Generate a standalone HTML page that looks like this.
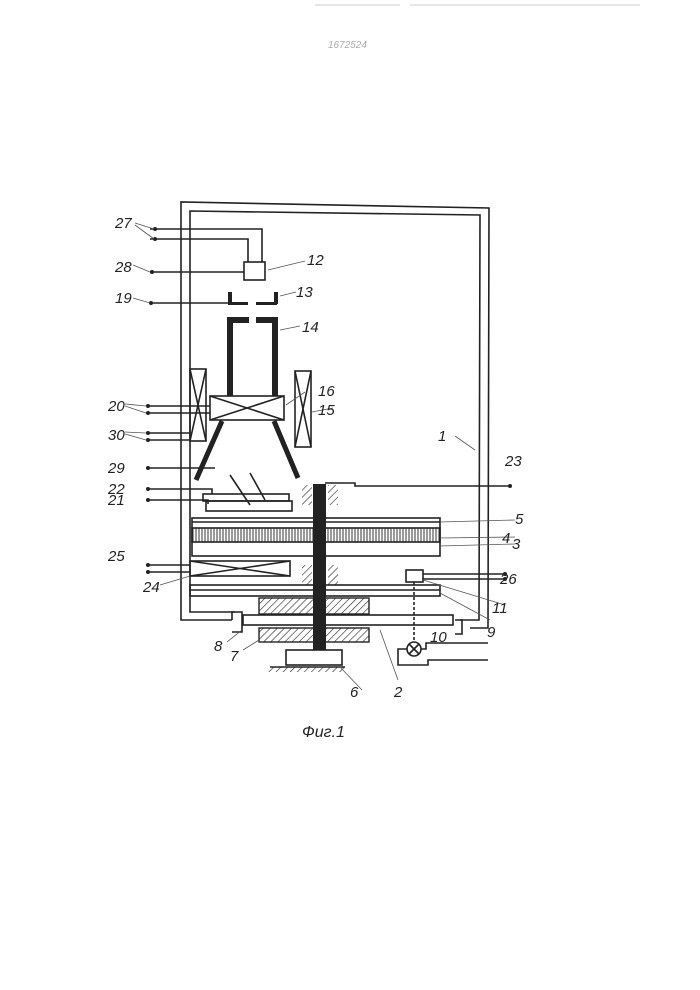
<!DOCTYPE html>
<html><head><meta charset="utf-8"><style>
html,body{margin:0;padding:0;background:#fff}
svg{display:block}
text{font-family:"Liberation Sans",sans-serif;font-style:italic;fill:#222}
</style></head><body>
<svg width="700" height="990" viewBox="0 0 700 990" xmlns="http://www.w3.org/2000/svg">
<defs>
<pattern id="h" width="5" height="5" patternUnits="userSpaceOnUse" patternTransform="rotate(45)"><line x1="0" y1="0" x2="0" y2="5" stroke="#222" stroke-width="1.2"/></pattern>
<pattern id="v" width="3" height="10" patternUnits="userSpaceOnUse"><line x1="1" y1="0" x2="1" y2="10" stroke="#333" stroke-width="1"/></pattern>
</defs>
<g stroke="#ccc" stroke-width="1"><line x1="315" y1="5" x2="400" y2="5"/><line x1="410" y1="5" x2="640" y2="5"/></g>
<text x="328" y="48" font-size="10" fill="#999" style="fill:#aaa">1672524</text>
<g fill="none" stroke="#222" stroke-width="1.6">
<!-- housing -->
<polyline points="232,620 181,620 181,202 489,208 488,628 470,628"/>
<polyline points="235,612 190,612 190,211 480,215 479,620 460,620"/>
<polyline points="232,620 232,612 242,612 242,632 232,632"/>
<polyline points="455,620 462,620 462,634 455,634"/>
<!-- 12 etc -->
<polyline points="150,229 262,229 262,262"/>
<polyline points="150,239 248,239 248,262"/>
<rect x="244" y="262" width="21" height="18"/>
<line x1="150" y1="272" x2="244" y2="272"/>
<line x1="150" y1="303" x2="228" y2="303"/>
<!-- 20/30 wires -->
<line x1="148" y1="406" x2="210" y2="406"/><line x1="148" y1="413" x2="210" y2="413"/>
<line x1="148" y1="433" x2="190" y2="433"/><line x1="148" y1="440" x2="190" y2="440"/>
<line x1="148" y1="468" x2="215" y2="468"/>
<polyline points="148,489 212,489 212,494"/>
<polyline points="148,500 208,500 208,504"/>
<line x1="148" y1="565" x2="190" y2="565"/><line x1="148" y1="572" x2="190" y2="572"/>
<!-- coils -->
<rect x="190" y="369" width="16" height="72"/><polyline points="190,369 206,441"/><polyline points="206,369 190,441"/>
<rect x="295" y="371" width="16" height="76"/><polyline points="295,371 311,447"/><polyline points="311,371 295,447"/>
<rect x="210" y="396" width="74" height="24"/><polyline points="210,396 284,420"/><polyline points="210,420 284,396"/>
<!-- substrates -->
<rect x="203" y="494" width="86" height="7"/><rect x="206" y="501" width="86" height="10"/>
<line x1="230" y1="475" x2="250" y2="505"/><line x1="250" y1="473" x2="265" y2="500"/>
<!-- targets -->
<rect x="192" y="518" width="248" height="38"/>
<rect x="192" y="528" width="248" height="14" fill="url(#v)"/>
<line x1="192" y1="522" x2="440" y2="522"/>
<rect x="190" y="561" width="100" height="15"/><polyline points="190,561 290,576"/><polyline points="190,576 290,561"/>
<rect x="190" y="585" width="250" height="11"/><line x1="190" y1="590" x2="440" y2="590"/>
<rect x="406" y="570" width="17" height="12"/>
<line x1="423" y1="574" x2="505" y2="574"/><line x1="423" y1="579" x2="505" y2="579"/>
<line x1="414" y1="582" x2="414" y2="642" stroke-dasharray="3,2"/>
<rect x="243" y="615" width="210" height="10"/>
<circle cx="414" cy="649" r="7"/><line x1="409" y1="644" x2="419" y2="654"/><line x1="419" y1="644" x2="409" y2="654"/>
<polyline points="421,649 426,649 426,643 488,643"/>
<polyline points="407,649 398,649 398,665 428,665 428,660 488,660"/>
<rect x="286" y="650" width="56" height="15"/>
<line x1="270" y1="667" x2="345" y2="667"/>
<!-- 23 -->
<polyline points="325,483 355,483 355,486 510,486"/>
</g>
<rect x="259" y="598" width="110" height="16" fill="url(#h)" stroke="#222" stroke-width="1.4"/>
<rect x="259" y="628" width="110" height="14" fill="url(#h)" stroke="#222" stroke-width="1.4"/>
<rect x="268" y="667" width="78" height="5" fill="url(#h)"/>
<rect x="302" y="485" width="10" height="20" fill="url(#h)"/>
<rect x="328" y="485" width="10" height="20" fill="url(#h)"/>
<rect x="302" y="565" width="10" height="20" fill="url(#h)"/>
<rect x="328" y="565" width="10" height="20" fill="url(#h)"/>
<!-- shaft -->
<rect x="313" y="484" width="13" height="166" fill="#222"/>
<!-- column 14 -->
<g fill="#222">
<rect x="228" y="292" width="4" height="12"/><rect x="228" y="302" width="20" height="3"/>
<rect x="256" y="302" width="21" height="3"/><rect x="274" y="292" width="4" height="12"/>
<rect x="227" y="317" width="22" height="6"/><rect x="256" y="317" width="22" height="6"/>
<rect x="227" y="317" width="6" height="79"/><rect x="272" y="317" width="6" height="79"/>
</g>
<g stroke="#222" stroke-width="5">
<line x1="222" y1="421" x2="196" y2="480"/><line x1="274" y1="421" x2="298" y2="478"/>
</g>
<g fill="#222">
<circle cx="155" cy="229" r="2"/><circle cx="155" cy="239" r="2"/><circle cx="152" cy="272" r="2"/><circle cx="151" cy="303" r="2"/>
<circle cx="148" cy="406" r="2"/><circle cx="148" cy="413" r="2"/><circle cx="148" cy="433" r="2"/><circle cx="148" cy="440" r="2"/>
<circle cx="148" cy="468" r="2"/><circle cx="148" cy="489" r="2"/><circle cx="148" cy="500" r="2"/>
<circle cx="148" cy="565" r="2"/><circle cx="148" cy="572" r="2"/><circle cx="510" cy="486" r="2"/><circle cx="505" cy="574" r="2"/><circle cx="505" cy="579" r="2"/>
</g>
<g stroke="#555" stroke-width="0.8" fill="none">
<line x1="135" y1="223" x2="154" y2="229"/><line x1="135" y1="225" x2="154" y2="239"/>
<line x1="133" y1="265" x2="150" y2="272"/><line x1="133" y1="298" x2="150" y2="303"/>
<line x1="268" y1="270" x2="305" y2="261"/><line x1="280" y1="296" x2="296" y2="292"/><line x1="280" y1="330" x2="300" y2="326"/>
<line x1="125" y1="404" x2="146" y2="406"/><line x1="125" y1="406" x2="146" y2="413"/>
<line x1="125" y1="432" x2="146" y2="433"/><line x1="125" y1="434" x2="146" y2="440"/>
<line x1="286" y1="405" x2="305" y2="392"/><line x1="312" y1="412" x2="333" y2="408"/>
<line x1="455" y1="436" x2="475" y2="450"/>
<line x1="440" y1="522" x2="515" y2="520"/><line x1="440" y1="538" x2="515" y2="537"/><line x1="440" y1="546" x2="515" y2="544"/>
<line x1="160" y1="585" x2="190" y2="576"/>
<line x1="423" y1="580" x2="505" y2="605"/><line x1="440" y1="593" x2="490" y2="620"/>
<line x1="242" y1="630" x2="227" y2="642"/><line x1="259" y1="640" x2="243" y2="650"/>
<line x1="380" y1="630" x2="398" y2="680"/><line x1="340" y1="667" x2="362" y2="690"/>
</g>
<g font-size="15">
<text x="115" y="228">27</text><text x="115" y="272">28</text><text x="115" y="303">19</text>
<text x="307" y="265">12</text><text x="296" y="297">13</text><text x="302" y="332">14</text>
<text x="108" y="411">20</text><text x="108" y="440">30</text>
<text x="318" y="396">16</text><text x="318" y="415">15</text><text x="438" y="441">1</text>
<text x="108" y="473">29</text><text x="108" y="494">22</text><text x="108" y="505">21</text>
<text x="505" y="466">23</text>
<text x="515" y="524">5</text><text x="502" y="543">4</text><text x="512" y="549">3</text>
<text x="108" y="561">25</text><text x="143" y="592">24</text>
<text x="500" y="584">26</text><text x="492" y="613">11</text><text x="487" y="637">9</text>
<text x="430" y="642">10</text><text x="214" y="651">8</text><text x="230" y="661">7</text>
<text x="350" y="697">6</text><text x="394" y="697">2</text>
<text x="302" y="737" font-size="16">Фиг.1</text>
</g>
</svg>
</body></html>
